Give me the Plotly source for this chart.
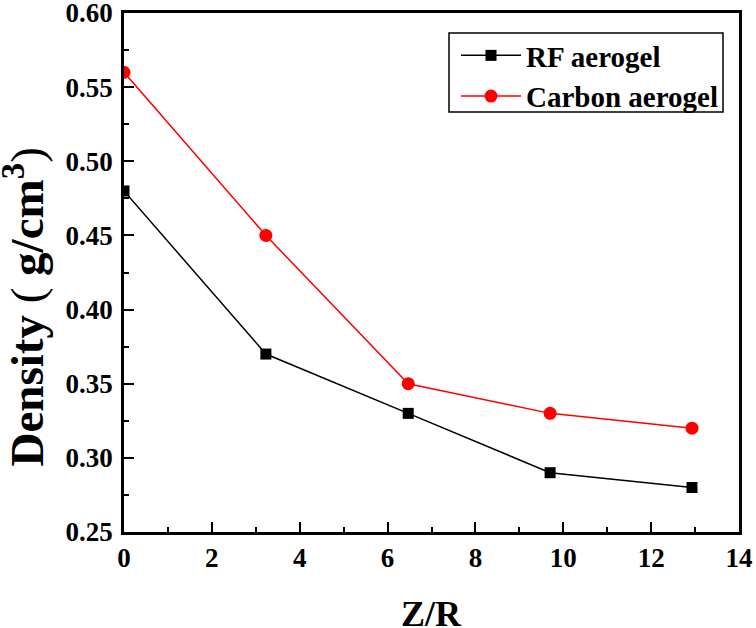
import plotly.graph_objects as go

z_r = [0, 3.23, 6.47, 9.70, 12.93]
rf_density = [0.48, 0.37, 0.33, 0.29, 0.28]
carbon_density = [0.56, 0.45, 0.35, 0.33, 0.32]
series_names = ["RF aerogel", "Carbon aerogel"]

FONT = "Liberation Serif"
L, R, T, B = 124, 17, 13, 96
W, H = 756, 628
PW, PH = W - L - R, H - T - B


def px_x(p):
    return (p - L) / PW


def px_y(p):
    return (H - B - p) / PH


fig = go.Figure()
fig.add_trace(go.Scatter(
    x=z_r, y=rf_density, name=series_names[0], mode="lines+markers",
    line=dict(color="black", width=1.5),
    marker=dict(symbol="square", size=11, color="black"),
))
fig.add_trace(go.Scatter(
    x=z_r, y=carbon_density, name=series_names[1], mode="lines+markers",
    line=dict(color="#ff0000", width=1.5),
    marker=dict(symbol="circle", size=13, color="#ff0000"),
))

axis_common = dict(
    showline=True, linecolor="black", linewidth=2.5, mirror=True,
    ticks="inside", ticklen=10, tickwidth=2, tickcolor="black",
    showgrid=False, zeroline=False, automargin=False,
    ticklabeloverflow="allow",
    tickfont=dict(family=FONT, size=27, color="black", weight="bold"),
)

fig.update_xaxes(
    range=[0, 14], dtick=2, tick0=0,
    minor=dict(ticks="inside", ticklen=5, tickwidth=2, dtick=1, tickcolor="black"),
    **axis_common,
)
fig.update_yaxes(
    range=[0.25, 0.60], dtick=0.05, tick0=0.25, tickformat=".2f",
    ticklabelstandoff=3,
    minor=dict(ticks="inside", ticklen=5, tickwidth=2, dtick=0.025, tickcolor="black"),
    **axis_common,
)

fig.add_annotation(
    text="<b>Z/R</b>", xref="paper", yref="paper", x=px_x(431), y=0,
    yshift=-82, xanchor="center", yanchor="middle", showarrow=False,
    font=dict(family=FONT, size=36, color="black"),
)
fig.add_annotation(
    text="<b>Density</b> ( <b>g/cm<sup>3</sup></b>)", xref="paper", yref="paper",
    x=0, y=0.5, xshift=-100, yshift=-35, textangle=-90,
    xanchor="center", yanchor="middle", showarrow=False,
    font=dict(family=FONT, size=47, color="black"),
)

# legend frame
fig.add_shape(
    type="rect", xref="paper", yref="paper",
    x0=px_x(449), x1=px_x(723), y0=px_y(112), y1=px_y(33),
    line=dict(color="black", width=1.5), fillcolor="rgba(0,0,0,0)",
)

fig.update_layout(
    width=W, height=H,
    margin=dict(l=L, r=R, t=T, b=B),
    paper_bgcolor="white", plot_bgcolor="white",
    showlegend=True,
    legend=dict(
        x=px_x(456), y=px_y(30), xanchor="left", yanchor="top",
        borderwidth=0, bgcolor="rgba(0,0,0,0)",
        font=dict(family=FONT, size=29, color="black", weight="bold"),
        itemwidth=60, tracegroupgap=0,
    ),
)

fig.write_html(
    "out.html",
    config={"displayModeBar": False},
    post_script="document.body.style.margin='0';document.body.style.overflow='hidden';",
)
